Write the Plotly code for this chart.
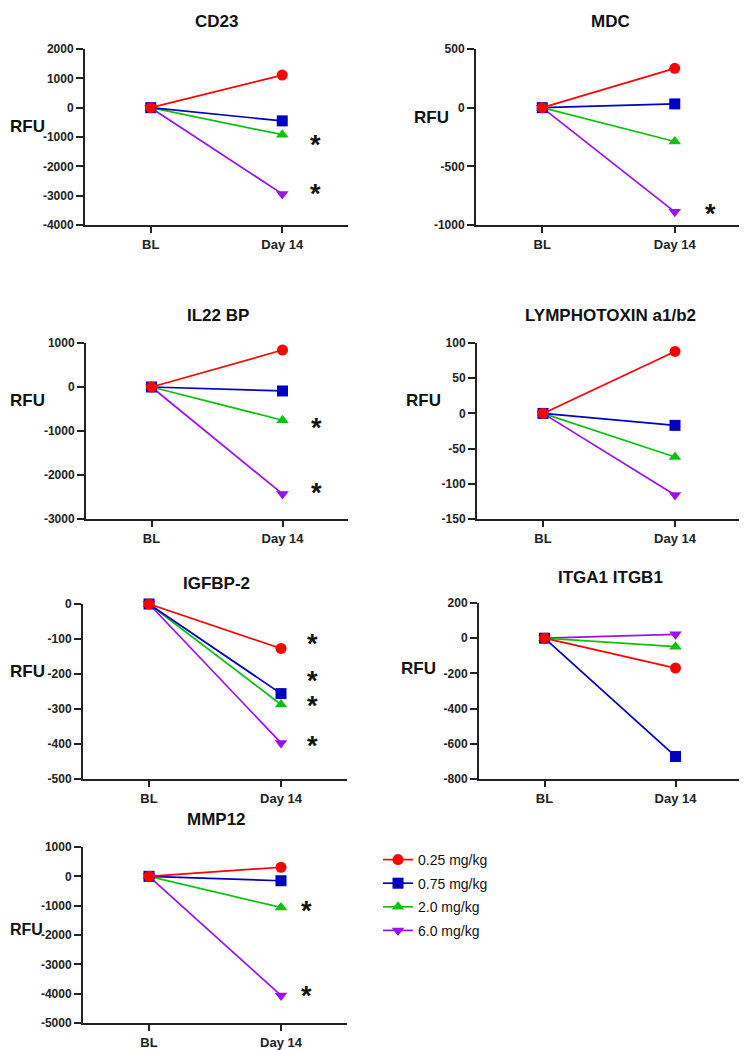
import plotly.graph_objects as go

# page is rendered with an 8px body margin, so the figure itself is 8px smaller
OFF = 8
W, H = 747 - OFF, 1050 - OFF

def px(x):
    return (x - OFF) / W

def py(y):
    return 1 - (y - OFF) / H

# ---- data ----
timepoints = ["BL", "Day 14"]
doses = ["0.25 mg/kg", "0.75 mg/kg", "2.0 mg/kg", "6.0 mg/kg"]
panels = ["CD23", "MDC", "IL22 BP", "LYMPHOTOXIN a1/b2", "IGFBP-2", "ITGA1 ITGB1", "MMP12"]

# Day 14 change from baseline (RFU) for each dose, per panel
cd23 = [1110, -450, -920, -2940]
mdc = [335, 32, -288, -888]
il22bp = [840, -90, -755, -2430]
lymphotoxin = [88, -17, -62, -116]
igfbp2 = [-127, -256, -287, -397]
itga1_itgb1 = [-170, -672, -48, 22]
mmp12 = [310, -150, -1060, -4060]
panel_values = [cd23, mdc, il22bp, lymphotoxin, igfbp2, itga1_itgb1, mmp12]

# y-axis tick values per panel (labels shown with a plain hyphen minus)
y_ticks = [
    [-4000, -3000, -2000, -1000, 0, 1000, 2000],
    [-1000, -500, 0, 500],
    [-3000, -2000, -1000, 0, 1000],
    [-150, -100, -50, 0, 50, 100],
    [-500, -400, -300, -200, -100, 0],
    [-800, -600, -400, -200, 0, 200],
    [-5000, -4000, -3000, -2000, -1000, 0, 1000],
]

# significance asterisks: (x position in category units, y value) per panel
stars = [
    [(1.25, -1200), (1.25, -2880)],
    [(1.27, -890)],
    [(1.26, -880), (1.26, -2370)],
    [],
    [(1.24, -108), (1.24, -214), (1.24, -286), (1.24, -400)],
    [],
    [(1.19, -1100), (1.19, -4000)],
]

colors = ["#ff0000", "#0000c0", "#10c010", "#9a10f0"]
symbols = ["circle", "square", "triangle-up", "triangle-down"]

# ---- layout geometry (page pixels) ----
# (x_left, x_right, y_top, y_bottom) of each plot area
boxes = [
    (85, 348, 49, 225),
    (476, 741, 49, 225),
    (86, 348, 343, 519),
    (477, 741, 343, 519),
    (83, 347, 604, 779),
    (479, 741, 603, 779),
    (83, 347, 847, 1023),
]
title_pos = [(217, 21), (610, 21), (218, 315), (610, 315), (216, 583), (610, 577), (216, 819)]
rfu_pos = [(27, 126, 17), (431, 117, 17), (27, 401, 17), (423, 401, 17),
           (27, 671, 17), (418, 668, 17), (26, 929, 16)]

fig = go.Figure()
font_family = "Liberation Sans, Arial, sans-serif"
axis_color = "#222"

for i, (name, vals) in enumerate(zip(panels, panel_values)):
    ax = "" if i == 0 else str(i + 1)
    xl, xr, yt, yb = boxes[i]
    # draw order: 6.0 first (bottom) ... 0.25 last (top)
    for j in [3, 2, 1, 0]:
        fig.add_trace(go.Scatter(
            x=[0, 1], y=[0, vals[j]],
            mode="lines+markers",
            line=dict(color=colors[j], width=1.7),
            marker=dict(symbol=symbols[j], size=11, color=colors[j]),
            name=doses[j],
            legendgroup=doses[j],
            legendrank=j + 1,
            showlegend=(i == 0),
            cliponaxis=False,
            xaxis="x" + ax, yaxis="y" + ax,
        ))
    fig.layout["xaxis" + ax] = dict(
        domain=[px(xl), px(xr)], range=[-0.5, 1.5], anchor="y" + ax,
        tickmode="array", tickvals=[0, 1], ticktext=timepoints,
        showline=True, linecolor=axis_color, linewidth=2, ticks="outside", ticklen=6,
        tickwidth=2, tickcolor=axis_color, showgrid=False, zeroline=False,
        tickfont=dict(family=font_family, size=13, color=axis_color, weight="bold"),
        fixedrange=True, automargin=False,
    )
    tv = y_ticks[i]
    fig.layout["yaxis" + ax] = dict(
        domain=[py(yb), py(yt)], range=[tv[0], tv[-1]], anchor="x" + ax,
        tickmode="array", tickvals=tv, ticktext=[str(v) for v in tv],
        showline=True, linecolor=axis_color, linewidth=2, ticks="outside", ticklen=7,
        tickwidth=2, tickcolor=axis_color, showgrid=False, zeroline=False,
        tickfont=dict(family=font_family, size=12, color=axis_color, weight="bold"),
        fixedrange=True, automargin=False,
    )
    tx, ty = title_pos[i]
    fig.add_annotation(x=px(tx), y=py(ty), xref="paper", yref="paper", text=name,
                       showarrow=False, xanchor="center", yanchor="middle",
                       font=dict(family=font_family, size=17, color="#111", weight="bold"))
    rx, ry, rs = rfu_pos[i]
    fig.add_annotation(x=px(rx), y=py(ry), xref="paper", yref="paper", text="RFU",
                       showarrow=False, xanchor="center", yanchor="middle",
                       font=dict(family=font_family, size=rs, color="#111", weight="bold"))
    for sx, sy in stars[i]:
        fig.add_annotation(x=sx, y=sy, xref="x" + ax, yref="y" + ax, text="*",
                           showarrow=False, xanchor="center", yanchor="middle", yshift=-2,
                           font=dict(family=font_family, size=27, color="#111", weight="bold"))

fig.update_layout(
    width=W, height=H,
    margin=dict(l=0, r=0, t=0, b=0, pad=0, autoexpand=False),
    paper_bgcolor="white", plot_bgcolor="white",
    showlegend=True,
    legend=dict(x=px(378), y=py(844), xanchor="left", yanchor="top",
                font=dict(family=font_family, size=14, color="#111"),
                bgcolor="rgba(0,0,0,0)", itemwidth=30, tracegroupgap=2.4),
)

fig.write_html("out.html")
